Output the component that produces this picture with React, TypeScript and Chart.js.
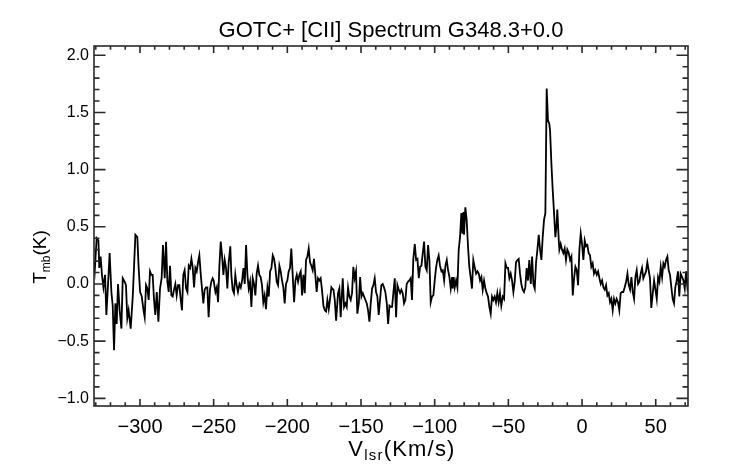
import React, { useEffect, useRef } from "react";
import { Chart, registerables } from "chart.js";

Chart.register(...registerables);

const TITLE = "GOTC+ [CII] Spectrum G348.3+0.0";
const X_TICKS = [-300, -250, -200, -150, -100, -50, 0, 50];
const Y_TICKS = [-1.0, -0.5, 0.0, 0.5, 1.0, 1.5, 2.0];
const X_RANGE = [-331.2, 71.9];
const Y_RANGE = [-1.067, 2.081];

// LSR velocity (km/s)
const VELOCITY = [
  -332.0, -330.7, -329.4, -328.2, -327.6, -326.7, -325.8, -324.8, -323.7, -322.8,
  -321.7, -320.6, -319.4, -318.5, -317.6, -316.7, -315.8, -314.9, -313.8, -312.6,
  -311.7, -310.4, -309.5, -308.6, -307.7, -306.3, -304.9, -304.0, -303.1, -301.8,
  -300.9, -299.9, -298.8, -297.7, -296.8, -295.9, -295.0, -294.1, -293.2, -292.3,
  -291.4, -290.5, -289.6, -288.6, -287.5, -286.4, -285.3, -284.4, -283.2, -282.3,
  -281.4, -280.5, -279.6, -278.7, -277.8, -276.9, -276.0, -275.1, -274.2, -273.3,
  -272.4, -271.5, -270.6, -269.7, -268.7, -267.8, -266.9, -266.0, -265.1, -264.2,
  -263.3, -262.4, -261.5, -260.6, -259.7, -258.8, -257.9, -257.0, -256.1, -255.2,
  -254.3, -253.4, -252.5, -251.6, -250.7,
  -250.0, -248.8, -247.9, -247.0, -246.1, -245.2, -244.3, -243.4, -242.5, -241.6,
  -240.7, -239.8, -238.7, -238.0, -237.1, -236.2, -235.3, -234.4, -233.5, -232.5,
  -231.6, -230.7, -229.8, -228.9, -228.0, -227.1, -226.2, -225.3, -224.4, -223.5,
  -222.6, -221.7, -220.8, -219.9, -219.0, -218.1, -217.2, -216.3, -215.4, -214.5,
  -213.5, -212.6, -211.7, -210.8, -209.9, -209.0, -208.1, -207.2, -206.3, -205.4,
  -204.5, -203.6, -202.7, -201.8, -200.9, -200.0, -199.1, -198.2, -197.3, -196.3,
  -195.4, -194.5, -193.6, -192.7, -191.8, -190.9, -190.0, -189.1, -188.2, -187.3,
  -186.4, -185.5, -184.6, -183.7, -182.8, -181.9, -181.0, -180.1, -179.2, -178.3,
  -177.4, -176.5, -175.5, -174.6, -173.7, -172.8, -171.9, -171.0, -170.1,
  -169.6, -168.7, -167.8, -166.9, -165.6, -164.7, -163.8, -162.4, -161.5, -160.6,
  -159.7, -158.8, -157.9, -157.0, -156.1, -155.2, -154.3, -153.4, -152.5, -151.5,
  -150.6, -149.7, -148.8, -147.9, -147.0, -146.1, -145.2, -144.3, -143.4, -142.5,
  -141.6, -140.7, -139.8, -138.9, -138.0, -137.1, -136.2, -135.3, -134.4, -133.5,
  -132.5, -131.6, -130.7, -129.8, -128.9, -128.0, -127.1, -126.2, -125.3, -124.4,
  -123.5, -122.6, -121.7, -120.8, -119.9, -119.0, -118.1, -117.2, -116.3, -115.4,
  -114.5, -113.5, -112.6, -111.7, -110.8, -109.9, -109.0, -108.1, -107.2, -106.3,
  -105.4, -104.5, -103.6, -102.7, -101.8, -100.9, -100.0, -99.1, -98.2, -97.3,
  -96.4, -95.4, -94.5, -93.6, -92.7, -91.8, -90.9,
  -90.0, -89.1, -88.2, -87.8, -87.1, -86.4, -85.5, -84.6, -83.7, -82.8,
  -81.9, -81.2, -80.5, -80.1, -79.2, -78.3, -77.4, -76.5, -75.6, -74.7,
  -73.8, -72.9, -71.9, -71.0, -70.1, -69.2, -68.3, -67.4, -66.5, -65.6,
  -64.7, -63.8, -62.9, -62.0, -61.1, -60.2, -59.3, -58.4, -57.5, -56.6,
  -55.7, -54.8, -53.8, -52.9, -52.0, -51.1, -50.2, -49.3, -48.4, -47.5,
  -46.6, -45.7, -44.8, -43.9, -43.0, -42.1, -41.2, -40.3, -39.4, -38.5,
  -37.6, -36.7, -35.8, -34.8, -33.9, -33.0, -32.1, -31.2, -30.3, -29.4,
  -28.5, -27.6, -26.7, -25.8, -24.9, -24.0, -23.1, -22.2, -21.7, -20.8,
  -19.9, -19.0, -18.1, -17.2, -16.8, -15.8, -15.4, -14.5, -13.6, -12.7,
  -11.8, -10.9, -10.0,
  -9.0, -8.1, -7.2, -6.3, -5.4, -4.5, -3.6, -2.7, -1.8, -0.9,
  0.0, 0.9, 1.8, 2.7, 3.6, 4.5, 5.4, 6.3, 7.2, 8.1,
  9.0, 10.0, 10.9, 11.8, 12.7, 13.6, 14.5, 15.4, 16.3, 17.2,
  18.1, 19.0, 19.9, 20.8, 21.7, 22.6, 23.5, 24.4, 25.3, 26.2,
  27.1, 28.0, 28.9, 29.9, 30.8, 31.7, 32.6, 33.5, 34.4, 35.3,
  36.2, 37.1, 38.0, 38.9, 39.8, 40.7, 41.6, 42.5, 43.4, 44.3,
  45.2, 46.1, 47.0, 48.0, 48.9, 49.8, 50.7, 51.6, 52.5, 53.4,
  54.3, 55.2, 56.1, 57.0, 57.9, 58.8, 59.7, 60.6, 61.5, 62.4,
  63.3, 64.2, 65.1, 66.0, 66.9, 67.9, 68.8, 69.7, 70.6, 71.5, 72.5,
];

// Main-beam brightness temperature (K)
const TMB = [
  0.22, 0.11, 0.40, 0.38, 0.14, 0.24, 0.08, -0.03, 0.08, -0.27,
  -0.01, 0.27, -0.07, -0.19, -0.58, -0.17, -0.35, 0.00, -0.23, -0.39,
  0.05, 0.02, -0.01, -0.30, -0.23, -0.39, -0.11, 0.16, 0.43, 0.41,
  0.14, -0.07, -0.11, -0.22, -0.29, -0.01, -0.04, -0.14, 0.11, 0.08,
  0.08, -0.13, -0.27, -0.07, -0.33, -0.04, 0.05, 0.34, 0.05, 0.37,
  0.02, -0.07, 0.16, -0.10, -0.11, -0.05, 0.00, -0.10, -0.01, -0.01,
  -0.13, -0.23, 0.08, 0.12, -0.04, -0.07, 0.16, 0.14, 0.22, 0.14,
  -0.03, 0.14, 0.11, 0.19, 0.25, 0.09, -0.04, -0.17, -0.05, -0.03,
  -0.03, -0.29, -0.05, 0.02, 0.05,
  0.03, -0.07, -0.03, -0.16, 0.16, 0.37, 0.25, 0.08, 0.21, 0.14,
  -0.04, 0.19, 0.33, 0.08, -0.05, -0.08, 0.08, -0.01, -0.07, 0.00,
  -0.03, 0.03, 0.14, 0.00, 0.34, 0.08, -0.04, 0.02, -0.20, 0.05,
  0.00, -0.10, 0.09, 0.16, 0.08, 0.06, -0.01, -0.16, -0.10, -0.22,
  -0.03, -0.11, 0.11, 0.14, 0.25, 0.22, 0.14, 0.02, -0.01, 0.16,
  0.11, 0.03, -0.03, -0.17, 0.00, 0.03, 0.11, 0.14, 0.31, 0.06,
  -0.16, 0.03, 0.08, 0.02, 0.08, 0.11, -0.10, 0.08, -0.08, 0.21,
  0.24, 0.31, 0.19, 0.16, 0.12, 0.22, 0.08, -0.07, 0.05, 0.03,
  0.05, -0.05, -0.19, -0.23, -0.24, -0.14, -0.22, -0.13, -0.03,
  -0.04, -0.05, -0.14, -0.32, -0.08, -0.04, -0.29, 0.05, -0.20, -0.17,
  -0.20, -0.03, -0.11, -0.14, -0.08, 0.15, 0.05, 0.11, -0.26, -0.17,
  0.06, -0.11, -0.08, -0.11, -0.14, -0.17, -0.23, -0.33, -0.17, -0.04,
  -0.01, 0.05, -0.07, -0.11, -0.27, -0.14, -0.01, 0.00, -0.03, -0.07,
  -0.17, -0.35, -0.19, -0.20, -0.20, -0.07, 0.05, -0.29, -0.01, -0.05,
  -0.08, -0.05, -0.08, -0.17, -0.14, 0.00, 0.02, 0.03, 0.05, -0.14,
  0.22, 0.35, 0.21, 0.22, 0.05, 0.15, 0.16, 0.27, 0.37, 0.15,
  0.12, 0.34, 0.21, -0.16, -0.11, -0.10, 0.03, 0.14, 0.21, 0.25,
  0.16, 0.11, 0.12, 0.03, 0.16, 0.21, 0.12,
  0.06, -0.04, 0.06, -0.04, 0.06, -0.03, 0.03, -0.03, 0.30, 0.41,
  0.62, 0.44, 0.63, 0.43, 0.67, 0.56, 0.33, 0.15, 0.06, -0.04,
  0.21, 0.15, 0.09, 0.11, 0.09, 0.03, 0.06, -0.05, 0.03, -0.04,
  -0.08, -0.11, -0.20, -0.26, -0.11, -0.14, -0.11, -0.16, -0.08, -0.16,
  -0.08, -0.19, -0.11, -0.13, 0.18, 0.14, 0.14, 0.05, 0.09, 0.03,
  -0.07, 0.02, 0.19, 0.21, 0.22, 0.09, 0.00, -0.05, -0.07, -0.03,
  0.14, 0.03, 0.21, 0.00, 0.24, 0.00, -0.04, 0.19, 0.30, 0.43,
  0.30, 0.21, 0.41, 0.56, 0.62, 1.71, 1.43, 1.40, 1.34, 1.05,
  0.82, 0.62, 0.41, 0.53, 0.65, 0.38, 0.30, 0.35, 0.30, 0.27,
  0.31, 0.21, 0.30,
  0.27, 0.21, 0.24, -0.10, 0.05, 0.15, 0.12, -0.01, 0.30, 0.44,
  0.35, 0.21, 0.38, 0.33, 0.34, 0.27, 0.25, 0.15, 0.18, 0.09,
  0.12, 0.08, 0.11, 0.05, 0.00, 0.03, -0.03, -0.05, -0.01, -0.10,
  -0.08, -0.16, -0.13, -0.23, -0.13, -0.17, -0.13, -0.16, -0.23, -0.08,
  -0.07, -0.07, -0.03, 0.02, 0.09, -0.01, -0.05, 0.06, -0.07, -0.13,
  0.06, 0.12, 0.00, 0.02, 0.09, 0.14, 0.05, 0.08, 0.11, 0.19,
  0.12, 0.05, -0.21, -0.08, 0.03, -0.05, -0.13, 0.06, 0.02, 0.15,
  0.06, 0.18, 0.15, 0.21, 0.24, 0.12, 0.08, -0.03, -0.13, -0.17,
  -0.03, 0.03, 0.11, -0.11, 0.09, 0.06, 0.03, -0.04, 0.11, -0.03, 0.05,
];

const FONT = '"Liberation Sans", Arial, Helvetica, sans-serif';

const fmt = (v: number, d: number) =>
  (v < -1e-9 ? "\u2212" : "") + Math.abs(v).toFixed(d);

type Part = { text: string; size: number; dy: number };

function drawParts(ctx: CanvasRenderingContext2D, parts: Part[], spacing = 0) {
  const c: any = ctx;
  c.letterSpacing = `${spacing}px`;
  let total = 0;
  const widths = parts.map((p) => {
    ctx.font = `${p.size}px ${FONT}`;
    const w = ctx.measureText(p.text).width;
    total += w;
    return w;
  });
  let x = -total / 2;
  parts.forEach((p, i) => {
    ctx.font = `${p.size}px ${FONT}`;
    ctx.fillText(p.text, x, p.dy);
    x += widths[i];
  });
  c.letterSpacing = "0px";
}

const framePlugin = {
  id: "idlFrame",
  afterDatasetsDraw(chart: any) {
    const { ctx, chartArea: a, scales } = chart;
    const xs = scales.x;
    const ys = scales.y;
    ctx.save();
    ctx.strokeStyle = "#2a2a2a";
    ctx.lineWidth = 1.6;
    ctx.strokeRect(a.left, a.top, a.right - a.left, a.bottom - a.top);
    ctx.beginPath();
    for (let i = Math.ceil(xs.min / 10); i <= Math.floor(xs.max / 10); i++) {
      const px = xs.getPixelForValue(i * 10);
      const major = i % 5 === 0;
      const len = major ? 7 : 3.7;
      ctx.moveTo(px, a.bottom);
      ctx.lineTo(px, a.bottom - len);
      ctx.moveTo(px, a.top);
      ctx.lineTo(px, a.top + len);
    }
    for (let i = Math.ceil(ys.min * 10); i <= Math.floor(ys.max * 10); i++) {
      const py = ys.getPixelForValue(i / 10);
      const major = i % 5 === 0;
      const len = major ? 11.5 : 5.5;
      ctx.moveTo(a.left, py);
      ctx.lineTo(a.left + len, py);
      ctx.moveTo(a.right, py);
      ctx.lineTo(a.right - len, py);
    }
    ctx.stroke();

    ctx.fillStyle = "#000";
    ctx.textBaseline = "alphabetic";
    ctx.textAlign = "left";
    // title
    ctx.save();
    ctx.translate((a.left + a.right) / 2, 37);
    drawParts(ctx, [{ text: TITLE, size: 22, dy: 0 }]);
    ctx.restore();
    // x title
    ctx.save();
    ctx.translate((a.left + a.right) / 2 + 11, 456);
    drawParts(
      ctx,
      [
        { text: "V", size: 22, dy: 0 },
        { text: "lsr", size: 15, dy: 4 },
        { text: "(Km/s)", size: 22, dy: 0 },
      ],
      1.2
    );
    ctx.restore();
    // y title
    ctx.save();
    ctx.translate(46, 257);
    ctx.rotate(-Math.PI / 2);
    drawParts(ctx, [
      { text: "T", size: 19, dy: 0 },
      { text: "mb", size: 12, dy: 4 },
      { text: "(K)", size: 19, dy: 0 },
    ]);
    ctx.restore();
    ctx.restore();
  },
};

export default function App() {
  const ref = useRef<HTMLCanvasElement | null>(null);

  useEffect(() => {
    if (!ref.current) return;
    const n = Math.min(VELOCITY.length, TMB.length);
    const points = [];
    for (let i = 0; i < n; i++) points.push({ x: VELOCITY[i], y: TMB[i] });

    const chart = new Chart(ref.current, {
      type: "line",
      data: {
        datasets: [
          {
            data: points,
            borderColor: "#000",
            borderWidth: 1.8,
            pointRadius: 0,
            tension: 0,
            fill: false,
          },
        ],
      },
      options: {
        animation: false,
        responsive: true,
        maintainAspectRatio: false,
        layout: { padding: { top: 46, right: 54, left: 0, bottom: 0 } },
        plugins: {
          legend: { display: false },
          title: { display: false },
          tooltip: { enabled: false },
        },
        scales: {
          x: {
            type: "linear",
            min: X_RANGE[0],
            max: X_RANGE[1],
            grid: { display: false, drawTicks: false },
            border: { display: false },
            afterBuildTicks: (s: any) => {
              s.ticks = X_TICKS.map((v) => ({ value: v }));
            },
            afterFit: (s: any) => {
              s.height = 58;
            },
            ticks: {
              autoSkip: false,
              maxRotation: 0,
              padding: 9,
              color: "#000",
              font: { family: FONT, size: 20 },
              callback: (v: any) => fmt(Number(v), 0),
            },
          },
          y: {
            type: "linear",
            min: Y_RANGE[0],
            max: Y_RANGE[1],
            grid: { display: false, drawTicks: false },
            border: { display: false },
            afterBuildTicks: (s: any) => {
              s.ticks = Y_TICKS.map((v) => ({ value: v }));
            },
            afterFit: (s: any) => {
              s.width = 94;
            },
            ticks: {
              autoSkip: false,
              padding: 5,
              color: "#000",
              font: { family: FONT, size: 16 },
              callback: (v: any) => fmt(Number(v), 1),
            },
          },
        },
      },
      plugins: [framePlugin],
    });
    return () => chart.destroy();
  }, []);

  return (
    <div
      style={{
        position: "absolute",
        left: 0,
        top: 0,
        width: 742,
        height: 464,
        background: "#fff",
      }}
    >
      <canvas ref={ref} />
    </div>
  );
}
